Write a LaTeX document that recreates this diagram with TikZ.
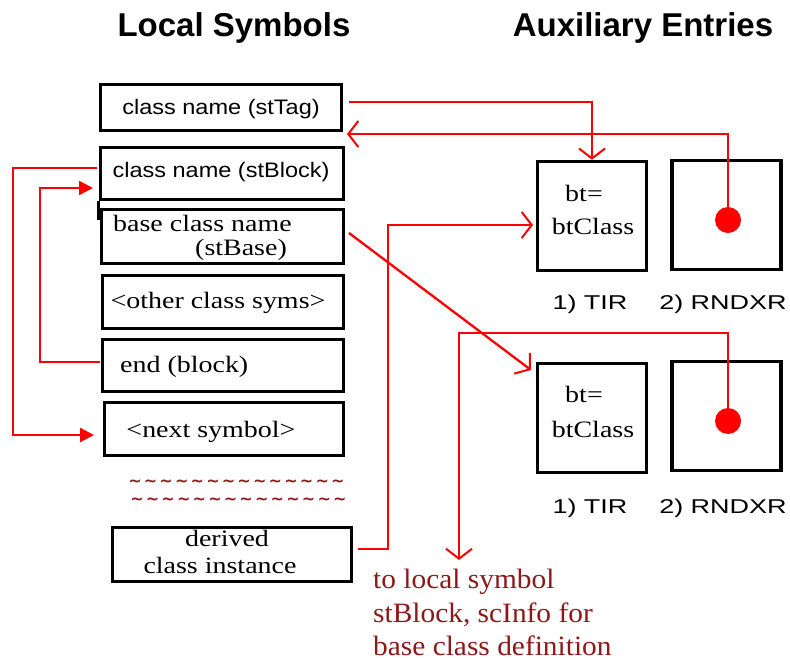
\documentclass[tikz,border=0pt]{standalone}
\usepackage{fontspec}
\setmainfont{Liberation Serif}
\setsansfont{Liberation Sans}
\newfontfamily\rmwide[FakeStretch=1.19]{Liberation Serif}
\newfontfamily\rmnote[FakeStretch=1.05]{Liberation Serif}
\newfontfamily\sfwide[FakeStretch=1.12]{Liberation Sans}
\newfontfamily\sflbl[FakeStretch=1.35]{Liberation Sans}
\newfontfamily\tldfont{DejaVu Sans}
\usetikzlibrary{arrows.meta,calc}
\definecolor{dred}{RGB}{140,25,25}
\newcommand\tld{\makebox[15.6pt]{\textasciitilde}}
\newcommand\tldrow{\tld\tld\tld\tld\tld\tld\tld\tld\tld\tld\tld\tld\tld\tld}
\begin{document}
\begin{tikzpicture}[x=1pt,y=-1pt,
  box/.style={draw,line width=3.5pt,inner sep=0pt},
  sq/.style={box,minimum width=109pt,minimum height=109pt},
  sftxt/.style={font=\sfwide\fontsize{21}{25}\selectfont,inner sep=0pt,anchor=base},
  rmtxt/.style={font=\rmwide\fontsize{23.5}{27}\selectfont,inner sep=0pt,anchor=base},
  lbl/.style={font=\sflbl\fontsize{20}{24}\selectfont,inner sep=0pt,anchor=base},
  ttl/.style={font=\sffamily\bfseries\fontsize{33}{38}\selectfont,inner sep=0pt,anchor=base},
  note/.style={font=\rmnote\fontsize{28}{33}\selectfont,text=dred,inner sep=0pt,anchor=base west},
  tilde/.style={text=dred,font=\tldfont\bfseries\fontsize{16}{18}\selectfont,inner sep=0pt,anchor=base west,align=left},
  redln/.style={draw=red,line width=2.3pt},
  barb/.style={redln,-{Straight Barb[length=10pt,width=26pt,line width=2pt]}},
  tri/.style={redln,-{Triangle[length=14pt,width=14pt]}},
  dot/.style={circle,fill=red,minimum size=26pt,inner sep=0pt}]
\useasboundingbox (0,0) rectangle (790,660);

% titles
\node[ttl] (tL) at (234,37) {Local Symbols};
\node[ttl] (tA) at (643,37) {Auxiliary Entries};

% local symbol boxes
\node[box,minimum width=241pt,minimum height=46pt] (b1) at (221,107.5) {};
\node[box,minimum width=243pt,minimum height=52pt] (b2) at (222,173.5) {};
\node[box,minimum width=242pt,minimum height=54pt] (b3) at (222.5,236.5) {};
\node[box,minimum width=241pt,minimum height=53pt] (b4) at (223,302) {};
\node[box,minimum width=241pt,minimum height=52pt] (b5) at (223,365.5) {};
\node[box,minimum width=239pt,minimum height=53pt] (b6) at (224,429) {};
\node[box,minimum width=239pt,minimum height=54pt] (b7) at (232,554.5) {};
\draw[line width=3pt] (b2.south west) -- ++(0,19);

\node[sftxt] (x1) at (221,115) {class name (stTag)};
\node[sftxt] (x2) at (221,178) {class name (stBlock)};
\node[rmtxt,anchor=base west,text depth=0pt] (x3a) at (113,232) {base class name};
\node[rmtxt,anchor=base west,text height=15pt] (x3b) at (195,256) {(stBase)};
\node[rmtxt] (x4) at (218,309) {<other class syms>};
\node[rmtxt,anchor=base west] (x5) at (120,373) {end (block)};
\node[rmtxt] (x6) at (211,437) {<next symbol>};
\node[rmtxt,text depth=0pt] (x7a) at (227,546) {derived};
\node[rmtxt,text height=15pt] (x7b) at (220,573) {class instance};

% tildes
\node[tilde] (tl) at (127,504.5) {\tldrow\\\hspace*{2pt}\tldrow};

% auxiliary entries
\node[sq] (t1) at (592,216) {};
\node[sq] (r1) at (726.5,215) {};
\node[sq] (t2) at (592,418) {};
\node[sq] (r2) at (726.5,416) {};
\node[rmtxt] (bt1a) at (584,202) {bt=};
\node[rmtxt] (bt1b) at (593,235) {btClass};
\node[rmtxt] (bt2a) at (584,402) {bt=};
\node[rmtxt] (bt2b) at (593,437) {btClass};
\node[lbl] (l1) at (590,310) {1) TIR};
\node[lbl] (l2) at (723,310) {2) RNDXR};
\node[lbl] (l3) at (590,513) {1) TIR};
\node[lbl] (l4) at (723,513) {2) RNDXR};
\node[dot] (d1) at (728,220) {};
\node[dot] (d2) at (728,421) {};

% note
\node[note] (n1) at (373,588) {to local symbol};
\node[note] (n2) at (373,622) {stBlock, scInfo for};
\node[note] (n3) at (373,655) {base class definition};

% connectors
\coordinate (c1s) at (349,102);
\draw[barb] (c1s) -| (t1.north);
\coordinate (c2e) at (347,134);
\draw[barb] (d1.center) |- (c2e);
\coordinate (c3s) at (97,168);
\coordinate (c3m) at (13,168);
\coordinate (c3e) at (94,435);
\draw[tri] (c3s) -- (c3m) |- (c3e);
\coordinate (c4s) at (100,362);
\coordinate (c4m) at (40,362);
\coordinate (c4e) at (93,188);
\draw[tri] (c4s) -- (c4m) |- (c4e);
\coordinate (c5s) at (349,233);
\coordinate (c5e) at (531,370);
\draw[barb] (c5s) -- (c5e);
\coordinate (c6s) at (358,549);
\coordinate (c6m) at (388,549);
\coordinate (c6e) at (533,225);
\draw[barb] (c6s) -- (c6m) |- (c6e);
\coordinate (c7m) at (459,333);
\coordinate (c7e) at (459,560);
\draw[barb] (d2.center) |- (c7m) -- (c7e);
\end{tikzpicture}
\end{document}
